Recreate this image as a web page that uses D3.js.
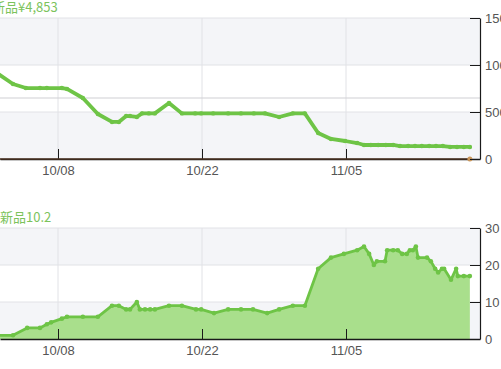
<!DOCTYPE html>
<html><head><meta charset="utf-8">
<script src="https://cdn.jsdelivr.net/npm/d3@7"></script>
<style>
html,body{margin:0;padding:0;background:#fff;overflow:hidden;}
svg{display:block;font-family:"Noto Sans CJK JP","Noto Sans",sans-serif;}
</style></head><body>
<svg id="c" width="501" height="369"></svg>
<script>
// ---------- data ----------
const priceTitle = "新品¥4,853";
const countTitle = "新品10.2";
const xDomain = ["2020/10/02 08:40", "2020/11/18 00:40"];
const xTicks = ["2020/10/08 00:00", "2020/10/22 00:00", "2020/11/05 00:00"];
const priceTicks = [0, 5000, 10000, 15000];
const countTicks = [0, 10, 20, 30];
const referencePrice = 6490;

const priceDates = ["2020/10/01 14:00","2020/10/03 15:00","2020/10/04 21:00","2020/10/06 06:00","2020/10/06 22:00","2020/10/08 09:00","2020/10/08 21:00","2020/10/10 10:00","2020/10/11 21:00","2020/10/13 06:00","2020/10/13 22:00","2020/10/14 15:00","2020/10/15 00:00","2020/10/15 16:00","2020/10/16 04:00","2020/10/16 20:00","2020/10/17 10:00","2020/10/18 19:00","2020/10/20 01:00","2020/10/21 08:00","2020/10/21 22:00","2020/10/23 02:00","2020/10/24 13:00","2020/10/25 19:00","2020/10/27 01:00","2020/10/28 03:00","2020/10/29 12:00","2020/10/30 20:00","2020/11/01 00:00","2020/11/02 07:00","2020/11/03 13:00","2020/11/04 22:00","2020/11/06 02:00","2020/11/06 18:00","2020/11/07 10:00","2020/11/08 03:00","2020/11/08 21:00","2020/11/09 14:00","2020/11/10 06:00","2020/11/11 01:00","2020/11/11 17:00","2020/11/12 09:00","2020/11/13 02:00","2020/11/13 18:00","2020/11/14 10:00","2020/11/15 03:00","2020/11/15 19:00","2020/11/16 11:00","2020/11/17 01:00"];
const priceValues = [9500,7980,7550,7550,7550,7550,7450,6490,4790,3940,3940,4570,4570,4470,4853,4853,4853,5960,4853,4853,4853,4853,4853,4853,4853,4853,4470,4853,4853,2770,2130,1915,1700,1490,1490,1490,1490,1490,1380,1380,1380,1380,1380,1380,1380,1280,1280,1280,1280];

const amazonDates = ["2020/10/01 00:00","2020/11/17 01:00"];
const amazonValues = [0, 0];

const countDates = ["2020/10/01 09:00","2020/10/03 15:00","2020/10/05 00:00","2020/10/06 06:00","2020/10/06 22:00","2020/10/07 08:00","2020/10/08 09:00","2020/10/08 21:00","2020/10/10 10:00","2020/10/11 21:00","2020/10/13 06:00","2020/10/13 22:00","2020/10/14 15:00","2020/10/15 00:00","2020/10/15 16:00","2020/10/15 23:00","2020/10/16 11:00","2020/10/16 23:00","2020/10/17 10:00","2020/10/18 19:00","2020/10/20 01:00","2020/10/21 10:00","2020/10/21 22:00","2020/10/23 04:00","2020/10/24 13:00","2020/10/25 19:00","2020/10/26 23:00","2020/10/28 08:00","2020/10/29 12:00","2020/10/30 20:00","2020/11/01 00:00","2020/11/02 07:00","2020/11/03 13:00","2020/11/04 19:00","2020/11/06 02:00","2020/11/06 18:00","2020/11/07 06:00","2020/11/07 17:00","2020/11/08 00:00","2020/11/08 19:00","2020/11/09 00:00","2020/11/09 14:00","2020/11/10 01:00","2020/11/10 11:00","2020/11/10 22:00","2020/11/11 05:00","2020/11/11 12:00","2020/11/11 19:00","2020/11/12 00:00","2020/11/12 21:00","2020/11/13 06:00","2020/11/13 16:00","2020/11/13 23:00","2020/11/14 08:00","2020/11/14 13:00","2020/11/15 05:00","2020/11/15 17:00","2020/11/15 21:00","2020/11/16 11:00","2020/11/17 01:00"];
const countValues = [1,1,3,3,4,4.5,5.5,6,6,6,9,9,8,8,10,8,8,8,8,9,9,8,8,7,8,8,8,7,8,9,9,19,22,23,24,25,23,20,21,21,24,24,24,23,23,24,24,25,22,22,21,19,18,19,19,16,19,17,17,17];

// ---------- rendering ----------
const parse = d3.utcParse("%Y/%m/%d %H:%M");
const green = "#6ec446";
const svg = d3.select("#c");
const plotL = -20, plotR = 480;

const x = d3.scaleUtc().domain(xDomain.map(parse)).range([0, 480]);

function panel(cfg) {
  const g = svg.append("g");
  const y = d3.scaleLinear().domain([0, cfg.ticks[cfg.ticks.length-1]]).range([cfg.bottom, cfg.top]);
  for (let i = 0; i < cfg.ticks.length - 1; i++) {
    g.append("rect").attr("x", plotL).attr("width", plotR - plotL)
      .attr("y", y(cfg.ticks[i+1])).attr("height", y(cfg.ticks[i]) - y(cfg.ticks[i+1]))
      .attr("fill", i % 2 === 0 ? "#f4f5f8" : "#ffffff");
  }
  g.selectAll(".hg").data(cfg.ticks.slice(1)).enter().append("line")
    .attr("x1", plotL).attr("x2", plotR).attr("y1", d => y(d)).attr("y2", d => y(d))
    .attr("stroke", "#e1e2e6").attr("stroke-width", 1);
  g.selectAll(".vg").data(xTicks.map(parse)).enter().append("line")
    .attr("x1", d => x(d)).attr("x2", d => x(d)).attr("y1", cfg.top).attr("y2", cfg.bottom)
    .attr("stroke", "#e1e2e6").attr("stroke-width", 1);
  if (cfg.refValue != null) {
    g.append("line").attr("x1", plotL).attr("x2", plotR)
      .attr("y1", y(cfg.refValue)).attr("y2", y(cfg.refValue))
      .attr("stroke", "#cfd0d3").attr("stroke-width", 1.2);
  }
  const pts = cfg.dates.map((d, i) => ({t: parse(d), v: cfg.values[i]}));
  if (cfg.area) {
    g.append("path").datum(pts)
      .attr("d", d3.area().x(d => x(d.t)).y0(y(0)).y1(d => y(d.v)))
      .attr("fill", "#a9df8c");
  }
  g.append("path").datum(pts)
    .attr("d", d3.line().x(d => x(d.t)).y(d => y(d.v)))
    .attr("fill", "none").attr("stroke", green).attr("stroke-width", cfg.lw)
    .attr("stroke-linejoin", "round").attr("stroke-linecap", "round");
  g.selectAll(".dot").data(pts).enter().append("circle")
    .attr("cx", d => x(d.t)).attr("cy", d => y(d.v)).attr("r", cfg.r).attr("fill", green);

  const xa = g.append("g").attr("transform", `translate(0,${cfg.bottom})`)
    .call(d3.axisBottom(x).tickValues(xTicks.map(parse)).tickFormat(d3.utcFormat("%m/%d"))
      .tickSizeInner(-10).tickSizeOuter(0).tickPadding(7));
  xa.select(".domain").attr("stroke", "#1a1a1a").attr("stroke-width", 1.5);
  xa.selectAll(".tick line").attr("stroke", "#1a1a1a");
  xa.selectAll("text").attr("fill", "#555").attr("font-size", 13);

  if (cfg.amazon) {
    const ap = cfg.amazon.dates.map((d, i) => ({t: parse(d), v: cfg.amazon.values[i]}));
    g.append("path").datum(ap).attr("d", d3.line().x(d => x(d.t)).y(d => y(d.v)))
      .attr("fill", "none").attr("stroke", "#4a3222").attr("stroke-width", 1.6);
    g.append("circle").datum(ap[ap.length-1]).attr("cx", d => x(d.t)).attr("cy", d => y(d.v))
      .attr("r", 2.5).attr("fill", "#c8955a");
  }

  const ya = g.append("g").attr("transform", `translate(${plotR},0)`)
    .call(d3.axisRight(y).tickValues(cfg.ticks).tickSizeInner(-10).tickSizeOuter(0).tickPadding(5).tickFormat(d3.format("d")));
  ya.select(".domain").attr("stroke", "#1a1a1a").attr("stroke-width", 1.2);
  ya.selectAll(".tick line").attr("stroke", "#1a1a1a");
  ya.selectAll("text").attr("fill", "#555").attr("font-size", 13);

  g.append("text").attr("x", cfg.titleX).attr("y", cfg.titleY).text(cfg.title)
    .attr("fill", "#7cc35c").attr("font-size", 13);
}

panel({top: 18, bottom: 159, ticks: priceTicks, dates: priceDates, values: priceValues,
  lw: 3.8, r: 2.2, area: false, refValue: referencePrice, amazon: {dates: amazonDates, values: amazonValues},
  title: priceTitle, titleX: -8, titleY: 11.5});
panel({top: 228, bottom: 339, ticks: countTicks, dates: countDates, values: countValues,
  lw: 2.8, r: 2.3, area: true, refValue: null, amazon: null,
  title: countTitle, titleX: 0, titleY: 221.5});
</script>
</body></html>
